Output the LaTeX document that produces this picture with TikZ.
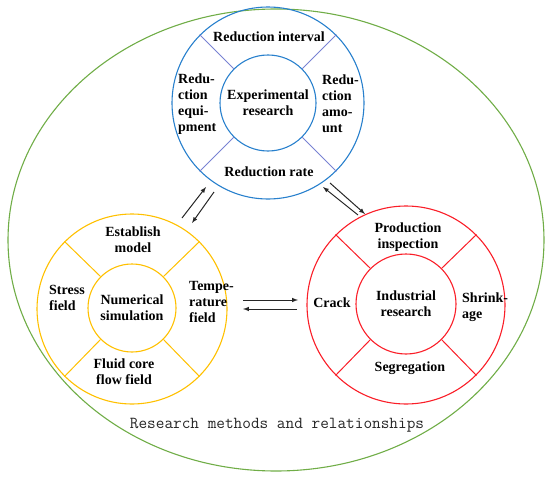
\documentclass[tikz,border=0pt]{standalone}
\usepackage{fontspec}
\setmainfont{Liberation Serif}
\definecolor{blueline}{RGB}{40,128,205}
\definecolor{bluediv}{RGB}{120,130,210}
\definecolor{goldline}{RGB}{255,192,0}
\definecolor{redline}{RGB}{250,30,40}
\definecolor{greenline}{RGB}{112,173,71}
\tikzset{
  ring/.style={circle, draw, line width=1.1pt, inner sep=0pt},
  lbl/.style={font=\bfseries\fontsize{14}{16}\selectfont, align=center, inner sep=0pt},
  lbll/.style={lbl, align=left, anchor=west},
  arr/.style={-latex, line width=1pt, black!85},
}

\begin{document}
\begin{tikzpicture}[x=1pt, y=-1pt]
\useasboundingbox (0,0) rectangle (550,479);
\draw[greenline, line width=1.1pt] (276,240) ellipse [x radius=268, y radius=231];

% experimental research
\node[ring, draw=blueline, minimum size=192pt] (expring) at (268,103) {};
\node[ring, lbl, draw=blueline, minimum size=96pt] (exp) at (268,103) {Experimental\\research};
\foreach \a in {45,135,225,315}
  \draw[bluediv, line width=1pt] (exp.\a) -- (expring.\a);
\node[lbl] (interval) at (269,37) {Reduction interval};
\node[lbll] (equip) at (178,104) {Redu-\\ction\\equi-\\pment};
\node[lbll] (amount) at (322,104) {Redu-\\ction\\amo-\\unt};
\node[lbl] (rate) at (269,172) {Reduction rate};

% numerical simulation
\node[ring, draw=goldline, minimum size=190pt] (numring) at (132,309) {};
\node[ring, lbl, draw=goldline, minimum size=88pt] (num) at (132,308) {Numerical\\simulation};
\foreach \a in {45,135,225,315}
  \draw[goldline, line width=1pt] (num.\a) -- (numring.\a);
\node[lbl] (model) at (133,240) {Establish\\model};
\node[lbll] (stress) at (49,298) {Stress\\field};
\node[lbll] (temp) at (189,302) {Tempe-\\rature\\field};
\node[lbl] (flow) at (124,372) {Fluid core\\flow field};

% industrial research
\node[ring, draw=redline, minimum size=198pt] (indring) at (406,305) {};
\node[ring, lbl, draw=redline, minimum size=100pt] (ind) at (406,304) {Industrial\\research};
\foreach \a in {45,135,225,315}
  \draw[redline, line width=1pt] (ind.\a) -- (indring.\a);
\node[lbl] (inspect) at (408,237) {Production\\inspection};
\node[lbl] (crack) at (332,303) {Crack};
\node[lbll] (shrink) at (462,307) {Shrink-\\age};
\node[lbl] (segr) at (410,368) {Segregation};

% arrows
\coordinate (numup1) at (182,218);  \coordinate (numup2) at (206,187);
\coordinate (expdn1) at (214,192);  \coordinate (expdn2) at (192,223);
\coordinate (indup1) at (358,215);  \coordinate (indup2) at (323,187);
\coordinate (expdr1) at (330,183);  \coordinate (expdr2) at (365,214);
\coordinate (numrt1) at (243,300);  \coordinate (numrt2) at (298,300);
\coordinate (indlt1) at (297,309);  \coordinate (indlt2) at (243,309);
\draw[arr] (numup1) -- (numup2);
\draw[arr] (expdn1) -- (expdn2);
\draw[arr] (indup1) -- (indup2);
\draw[arr] (expdr1) -- (expdr2);
\draw[arr] (numrt1) -- (numrt2);
\draw[arr] (indlt1) -- (indlt2);

\node[font=\ttfamily\fontsize{16.8}{18}\selectfont, text=black!85] (title) at (277,425) {Research methods and relationships};
\end{tikzpicture}
\end{document}
